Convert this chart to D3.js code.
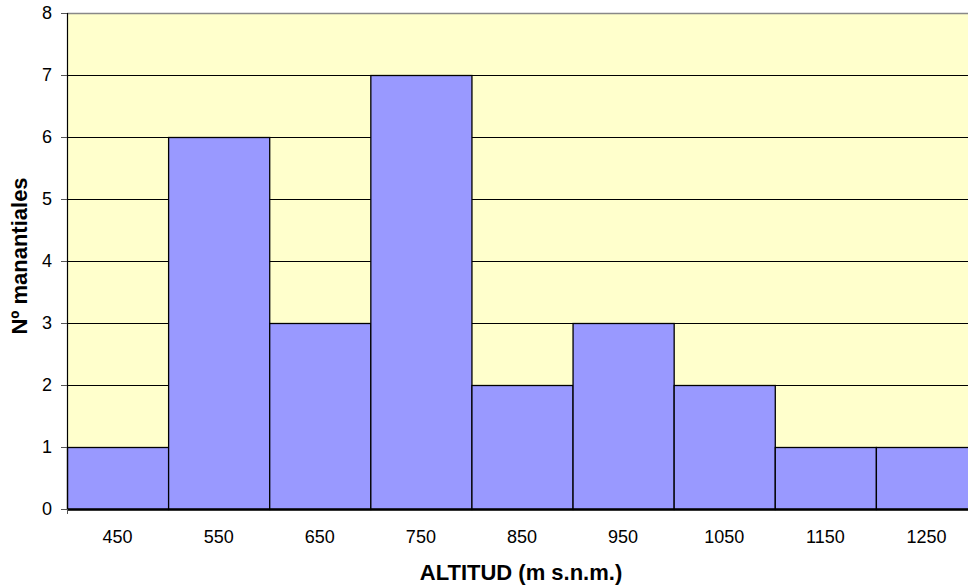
<!DOCTYPE html>
<html>
<head>
<meta charset="utf-8">
<script src="https://cdn.jsdelivr.net/npm/d3@7"></script>
<style>
  html, body { margin: 0; padding: 0; background: #fff; }
  svg { display: block; font-family: "Liberation Sans", Arial, sans-serif; }
</style>
</head>
<body>
<svg id="chart" width="968" height="585"></svg>
<script>
// Altitude bins (m a.s.l.) and number of springs in each
const categories = ["450", "550", "650", "750", "850", "950", "1050", "1150", "1250"];
const counts = [1, 6, 3, 7, 2, 3, 2, 1, 1];
const yTicks = [0, 1, 2, 3, 4, 5, 6, 7, 8];

const svg = d3.select("#chart");
const plotLeft = 67, plotTop = 13, plotBottom = 509, plotRight = 977;
const FONT = "Liberation Sans, Arial, sans-serif";

const x = d3.scaleBand().domain(categories).range([plotLeft, plotRight]).padding(0);
const y = d3.scaleLinear().domain([0, 8]).range([plotBottom, plotTop]);

// plot background
svg.append("rect")
  .attr("x", plotLeft).attr("y", plotTop)
  .attr("width", plotRight - plotLeft).attr("height", plotBottom - plotTop)
  .attr("fill", "#FFFFCC");

// horizontal gridlines
svg.append("g").selectAll("line")
  .data(yTicks.filter(d => d > 0 && d < 8))
  .join("line")
  .attr("x1", plotLeft).attr("x2", plotRight)
  .attr("y1", d => y(d) + 0.5).attr("y2", d => y(d) + 0.5)
  .attr("stroke", "#000").attr("stroke-width", 1);

// top border
svg.append("line")
  .attr("x1", plotLeft).attr("x2", plotRight)
  .attr("y1", plotTop + 0.5).attr("y2", plotTop + 0.5)
  .attr("stroke", "#888").attr("stroke-width", 1.5);

// bars
svg.append("g").selectAll("rect")
  .data(counts)
  .join("rect")
  .attr("x", (d, i) => x(categories[i]) + 0.5)
  .attr("y", d => y(d) + 0.5)
  .attr("width", x.bandwidth())
  .attr("height", d => plotBottom - y(d))
  .attr("fill", "#9999FF")
  .attr("stroke", "#000")
  .attr("stroke-width", 1.3);

// y axis
const yAxis = d3.axisLeft(y).tickValues(yTicks).tickSize(6).tickPadding(9).tickFormat(d3.format("d"));
const gy = svg.append("g").attr("transform", `translate(${plotLeft},0)`).call(yAxis);
gy.select(".domain").attr("stroke", "#000").attr("stroke-width", 1.2);
gy.selectAll(".tick line").attr("stroke", "#555");
gy.selectAll("text").attr("font-size", 18).attr("fill", "#000").attr("font-family", FONT);

// x axis
const xAxis = d3.axisBottom(x).tickSize(0).tickPadding(21);
const gx = svg.append("g").attr("transform", `translate(0,${plotBottom})`).call(xAxis);
gx.select(".domain").attr("stroke", "#000").attr("stroke-width", 2.5);
gx.selectAll("text").attr("font-size", 18).attr("fill", "#000").attr("font-family", FONT);
svg.append("line")
  .attr("x1", plotLeft + 0.5).attr("x2", plotLeft + 0.5)
  .attr("y1", plotBottom).attr("y2", plotBottom + 5)
  .attr("stroke", "#555");

// axis titles
svg.append("text")
  .attr("x", 521).attr("y", 580)
  .attr("text-anchor", "middle")
  .attr("font-family", FONT)
  .attr("font-size", 22).attr("font-weight", "bold")
  .text("ALTITUD (m s.n.m.)");

svg.append("text")
  .attr("transform", "translate(27,256) rotate(-90)")
  .attr("text-anchor", "middle")
  .attr("font-family", FONT)
  .attr("font-size", 22).attr("font-weight", "bold")
  .text("Nº manantiales");
</script>
</body>
</html>
